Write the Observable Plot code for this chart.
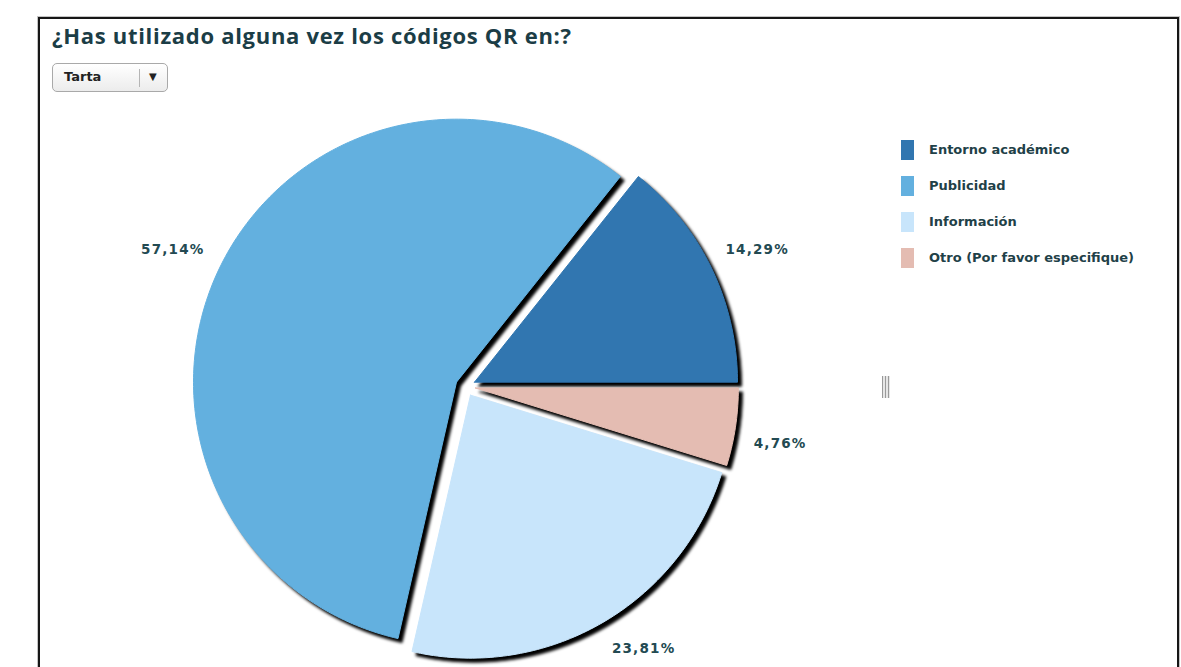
<!DOCTYPE html>
<html>
<head>
<meta charset="utf-8">
<script src="https://cdn.jsdelivr.net/npm/d3@7"></script>
<script src="https://cdn.jsdelivr.net/npm/@observablehq/plot@0.6"></script>
<style>
  html, body { margin: 0; padding: 0; background: #fff; }
  body { width: 1181px; height: 667px; position: relative; overflow: hidden; }
  #frame { position: absolute; left: 38px; top: 17px; width: 1137px; height: 720px;
           border: 2px solid #161616; box-shadow: 0 0 0 1px #c4c4c4; }
  #title { position: absolute; left: 52px; top: 20px; font-family: "Open Sans", sans-serif;
           font-weight: 700; font-size: 22px; letter-spacing: 0.7px; color: #1b3d46; white-space: nowrap; z-index: 3; }
  #btn { position: absolute; left: 52px; top: 63px; width: 116px; height: 29px; box-sizing: border-box;
         border: 1px solid #a9a9a9; border-radius: 5px; background: linear-gradient(#ffffff, #ececec);
         font-family: "DejaVu Sans", sans-serif; font-weight: bold; font-size: 13px; color: #222; z-index: 3; }
  #btn .t { position: absolute; left: 11px; top: 5px; }
  #btn .sep { position: absolute; left: 86px; top: 5px; width: 1px; height: 18px; background: #b5b5b5; }
  #btn .arr { position: absolute; left: 96px; top: 7px; font-size: 10px; }
  #legend { position: absolute; left: 901px; top: 140px; font-family: "DejaVu Sans", sans-serif;
            font-weight: bold; font-size: 13px; color: #1f4148; z-index: 3; }
  #legend .row { position: relative; height: 36px; }
  #legend .sw { position: absolute; left: 0; top: 0; width: 13px; height: 20px; }
  #legend .lb { position: absolute; left: 28px; top: 2px; white-space: nowrap; }
  #handle { position: absolute; left: 882px; top: 376px; width: 8px; height: 22px; z-index: 3;
            background: repeating-linear-gradient(90deg, #9a9a9a 0 1px, #e6e6e6 1px 3px); }
  #chart { position: absolute; left: 0; top: 0; z-index: 2; }
  #chart g[aria-label="line"] path { filter: drop-shadow(4px 4px 1.5px rgba(0,0,0,1)); }
</style>
</head>
<body>
<div id="frame"></div>
<div id="title">¿Has utilizado alguna vez los códigos QR en:?</div>
<div id="btn"><span class="t">Tarta</span><span class="sep"></span><span class="arr">▼</span></div>
<div id="legend"></div>
<div id="handle"></div>
<div id="chart"></div>
<script>
const categories = ["Entorno académico", "Publicidad", "Información", "Otro (Por favor especifique)"];
const values = [14.29, 57.14, 23.81, 4.76];
const valueLabels = ["14,29%", "57,14%", "23,81%", "4,76%"];
const colors = ["#3176b0", "#63b0df", "#c8e5fb", "#e4bcb2"];

// geometry (styling): pixel center, radius, explode and label placement
const W = 1181, H = 667, CX = 465, CY = 386, R = 263;
const explode = 10 / R, labelR = 1.21;
const labelNudgeX = [5, -6, 19, 0];   // px, styling only
const labelNudgeY = [1, 1, -13, 10];

const arcs = d3.pie().sort(null).startAngle(0).endAngle(2 * Math.PI)(values);
const slicePts = [];
const labelPts = [];
arcs.forEach((a, i) => {
  const mid = (a.startAngle + a.endAngle) / 2;
  const ox = explode * Math.cos(mid), oy = explode * Math.sin(mid);
  slicePts.push({cat: categories[i], x: ox, y: oy});
  const n = Math.max(8, Math.ceil((a.endAngle - a.startAngle) * 60));
  for (let k = 0; k <= n; k++) {
    const t = a.startAngle + (a.endAngle - a.startAngle) * k / n;
    slicePts.push({cat: categories[i], x: ox + Math.cos(t), y: oy + Math.sin(t)});
  }
  slicePts.push({cat: categories[i], x: ox, y: oy});
  labelPts.push({x: labelR * Math.cos(mid) + labelNudgeX[i] / R, y: labelR * Math.sin(mid) - labelNudgeY[i] / R, text: valueLabels[i]});
});

const chart = Plot.plot({
  width: W, height: H, margin: 0,
  style: {background: "transparent"},
  x: {domain: [-CX / R, (W - CX) / R], axis: null},
  y: {domain: [-(H - CY) / R, CY / R], axis: null},
  color: {domain: categories, range: colors},
  marks: [
    Plot.line(slicePts, {x: "x", y: "y", z: "cat", fill: "cat", stroke: "cat", strokeWidth: 1, curve: "linear"}),
    Plot.text(labelPts, {x: "x", y: "y", text: "text", fill: "#234a52", fontSize: 13.5, fontWeight: "bold",
      fontFamily: "DejaVu Sans"})
  ]
});
chart.querySelectorAll('g[aria-label="text"] text').forEach(t => t.style.letterSpacing = "1.2px");
chart.setAttribute("font-family", "DejaVu Sans");
document.getElementById("chart").appendChild(chart);

const legend = document.getElementById("legend");
categories.forEach((c, i) => {
  const row = document.createElement("div");
  row.className = "row";
  row.innerHTML = `<div class="sw" style="background:${colors[i]}"></div><div class="lb">${c}</div>`;
  legend.appendChild(row);
});
</script>
</body>
</html>
